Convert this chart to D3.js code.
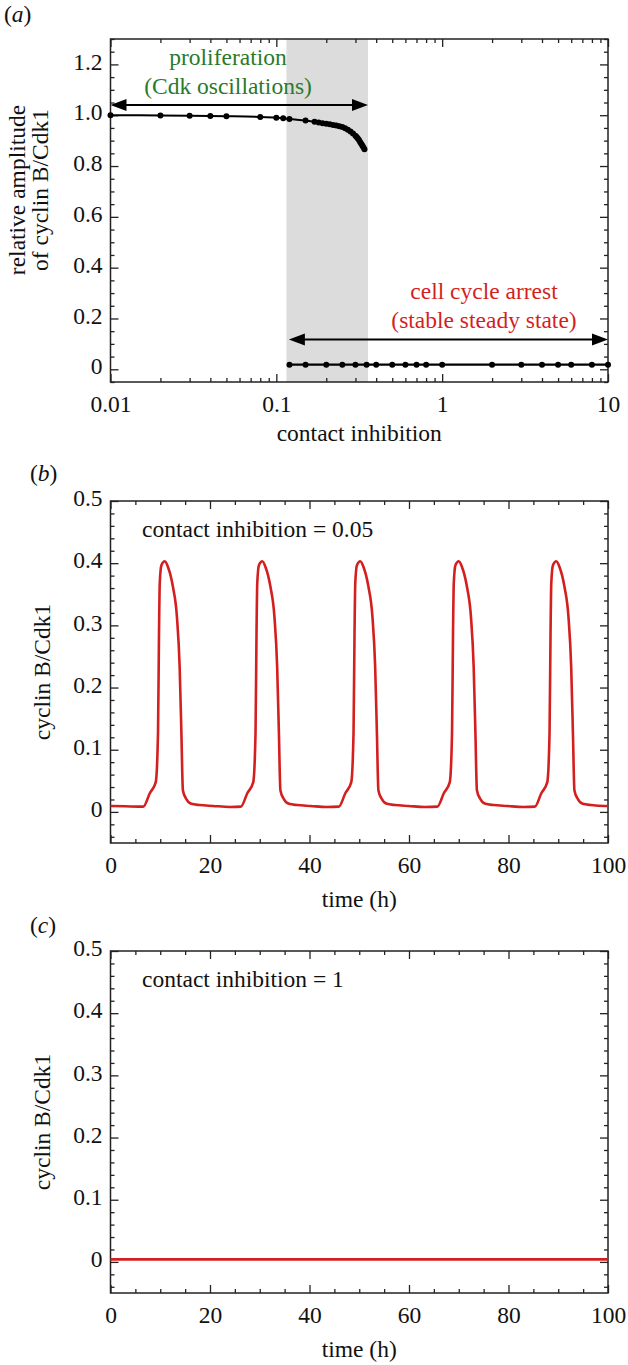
<!DOCTYPE html>
<html><head><meta charset="utf-8">
<script src="https://cdn.jsdelivr.net/npm/d3@7"></script>
<style>
html,body{margin:0;padding:0;background:#fff;}
svg{display:block;}
svg text{font-family:"Liberation Serif","DejaVu Serif",serif !important;fill:#111;}
</style></head>
<body>
<svg id="fig" width="628" height="1365"></svg>
<script>
// ---------- DATA ----------
// Panel (a): relative amplitude vs contact inhibition
const aUpperX = [0.01,0.02,0.03,0.04,0.05,0.08,0.1,0.11,0.12,0.15,0.17,0.18,0.19,0.2,0.21,0.22,0.23,0.24,0.25,0.26,0.27,0.28,0.29,0.3,0.305,0.31,0.315,0.32,0.325,0.33,0.335,0.34];
const aUpperY = [1.0,0.999,0.998,0.997,0.996,0.993,0.99,0.988,0.985,0.979,0.974,0.971,0.968,0.966,0.964,0.962,0.96,0.957,0.954,0.949,0.943,0.936,0.928,0.919,0.914,0.908,0.902,0.895,0.888,0.881,0.874,0.866];
const aLowerX = [0.12,0.15,0.2,0.25,0.3,0.35,0.4,0.5,0.6,0.7,0.8,1,2,3,4,5,6,8,10];
const aLowerY = [0.018,0.018,0.018,0.018,0.018,0.018,0.018,0.018,0.018,0.018,0.018,0.018,0.018,0.018,0.018,0.018,0.018,0.018,0.018];
const aShade = [0.115, 0.357];
const aArrowProlif = [0.01, 0.357, 1.04];
const aArrowArrest = [0.119, 10, 0.117];
const aXTicks = [0.01, 0.1, 1, 10];
const aXTickLabels = ["0.01","0.1","1","10"];
const aYTicks = [0, 0.2, 0.4, 0.6, 0.8, 1.0, 1.2];
const aYTickLabels = ["0","0.2","0.4","0.6","0.8","1.0","1.2"];

// Panel (b): cyclin B/Cdk1 time course, contact inhibition = 0.05
const bTime = [0,3,6.6,7.9,9.1,9.55,9.75,9.9,10.25,10.9,11.55,12.55,13.35,13.9,14.25,14.55,15.15,16.25,17.9,20.6,24,
  26.2,27.5,28.7,29.15,29.35,29.5,29.85,30.5,31.15,32.15,32.95,33.5,33.85,34.15,34.75,35.85,37.5,40.2,43.5,
  45.9,47.2,48.4,48.85,49.05,49.2,49.55,50.2,50.85,51.85,52.65,53.2,53.55,53.85,54.45,55.55,57.2,59.9,63.2,
  65.7,67.0,68.2,68.65,68.85,69.0,69.35,70.0,70.65,71.65,72.45,73.0,73.35,73.65,74.25,75.35,77.0,79.7,83,
  85.3,86.6,87.8,88.25,88.45,88.6,88.95,89.6,90.25,91.25,92.05,92.6,92.95,93.25,93.85,94.95,96.6,99.3,100];
const bCdk = [0.0095,0.009,0.0085,0.03,0.048,0.127,0.288,0.368,0.397,0.403,0.394,0.362,0.314,0.233,0.127,0.035,0.022,0.013,0.011,0.0096,0.008,
  0.0085,0.03,0.048,0.127,0.288,0.368,0.397,0.403,0.394,0.362,0.314,0.233,0.127,0.035,0.022,0.013,0.011,0.0096,0.008,
  0.0085,0.03,0.048,0.127,0.288,0.368,0.397,0.403,0.394,0.362,0.314,0.233,0.127,0.035,0.022,0.013,0.011,0.0096,0.008,
  0.0085,0.03,0.048,0.127,0.288,0.368,0.397,0.403,0.394,0.362,0.314,0.233,0.127,0.035,0.022,0.013,0.011,0.0096,0.008,
  0.0085,0.03,0.048,0.127,0.288,0.368,0.397,0.403,0.394,0.362,0.314,0.233,0.127,0.035,0.022,0.013,0.011,0.0096,0.0096];

// Panel (c): contact inhibition = 1 (steady state)
const cTime = [0, 100];
const cCdk = [0.004, 0.004];

const tXTicks = [0,20,40,60,80,100];
const tYTicks = [0,0.1,0.2,0.3,0.4,0.5];
const tYTickLabels = ["0","0.1","0.2","0.3","0.4","0.5"];

// ---------- LAYOUT ----------
const svg = d3.select("#fig");
const FS = 23.5;
const FONT = '"Liberation Serif","DejaVu Serif",serif';
const L = 110.5, R = 608;
const boxes = {
  a: {top: 39, bottom: 382},
  b: {top: 501, bottom: 843},
  c: {top: 951, bottom: 1293}
};
const RED = "#d41f1f", GREEN = "#2a7a2a";

function txt(g){ return g.append("text").attr("font-family",FONT).attr("font-size",FS); }

function frame(g, box){
  g.append("rect").attr("x", L).attr("y", box.top)
   .attr("width", R - L).attr("height", box.bottom - box.top)
   .attr("fill","none").attr("stroke","#222").attr("stroke-width",1.5);
}

function ticks(g, box, xs, ys, xMajor, xMinor, yMajor, yMinor, xFmt, yFmt){
  const mk = (tr, ax) => g.append("g").attr("transform",tr).call(ax);
  mk(`translate(0,${box.bottom})`, d3.axisBottom(xs).tickValues(xMinor).tickSizeInner(-4).tickSizeOuter(0).tickFormat(""));
  mk(`translate(0,${box.bottom})`, d3.axisBottom(xs).tickValues(xMajor).tickSizeInner(-8).tickSizeOuter(0).tickPadding(13).tickFormat(xFmt));
  mk(`translate(0,${box.top})`, d3.axisTop(xs).tickValues(xMinor).tickSizeInner(-4).tickSizeOuter(0).tickFormat(""));
  mk(`translate(0,${box.top})`, d3.axisTop(xs).tickValues(xMajor).tickSizeInner(-8).tickSizeOuter(0).tickFormat(""));
  mk(`translate(${L},0)`, d3.axisLeft(ys).tickValues(yMinor).tickSizeInner(-4).tickSizeOuter(0).tickFormat(""));
  const lfM = mk(`translate(${L},0)`, d3.axisLeft(ys).tickValues(yMajor).tickSizeInner(-8).tickSizeOuter(0).tickPadding(8).tickFormat(yFmt));
  lfM.selectAll("text").attr("dy","0.2em");
  mk(`translate(${R},0)`, d3.axisRight(ys).tickValues(yMinor).tickSizeInner(-4).tickSizeOuter(0).tickFormat(""));
  mk(`translate(${R},0)`, d3.axisRight(ys).tickValues(yMajor).tickSizeInner(-8).tickSizeOuter(0).tickFormat(""));
  g.selectAll("g").attr("font-family",FONT).attr("font-size",FS);
  g.selectAll(".domain").remove();
  g.selectAll(".tick line").attr("stroke","#222").attr("stroke-width",1.3);
  g.selectAll(".tick text").attr("font-size",FS).attr("font-family",FONT).attr("fill","#111");
}

function panelLabel(x, y, letter){
  const t = txt(svg).attr("x",x).attr("y",y);
  t.append("tspan").text("(");
  t.append("tspan").attr("font-style","italic").text(letter);
  t.append("tspan").text(")");
}

function arrow(g, x1, x2, y){
  const hl = 16, hw = 6;
  g.append("line").attr("x1",x1+hl-2).attr("x2",x2-hl+2).attr("y1",y).attr("y2",y)
   .attr("stroke","#000").attr("stroke-width",2);
  g.append("path").attr("d",`M${x1},${y}L${x1+hl},${y-hw}L${x1+hl},${y+hw}Z`).attr("fill","#000");
  g.append("path").attr("d",`M${x2},${y}L${x2-hl},${y-hw}L${x2-hl},${y+hw}Z`).attr("fill","#000");
}

// ---------- PANEL A ----------
{
  const box = boxes.a;
  const g = svg.append("g");
  const xs = d3.scaleLog().domain([0.01, 10]).range([L, R]);
  const ys = d3.scaleLinear().domain([-0.05, 1.3]).range([box.bottom, box.top]);
  g.append("rect").attr("x", xs(aShade[0])).attr("y", box.top)
   .attr("width", xs(aShade[1]) - xs(aShade[0])).attr("height", box.bottom - box.top)
   .attr("fill","#dcdcdc");
  const xMinor = [];
  [0.01,0.1,1].forEach(d => { for (let k=2;k<=9;k++) xMinor.push(d*k); });
  const yMinor = d3.range(-0.05, 1.31, 0.05).map(v=>+v.toFixed(2)).filter(v => Math.abs(v*5 - Math.round(v*5)) > 1e-6);
  ticks(g, box, xs, ys, aXTicks, xMinor, aYTicks, yMinor,
        (d,i)=>aXTickLabels[i], (d,i)=>aYTickLabels[i]);
  frame(g, box);

  const up = aUpperX.map((x,i)=>[x, aUpperY[i]]);
  const lo = aLowerX.map((x,i)=>[x, aLowerY[i]]);
  g.append("path").datum(up).attr("d", d3.line().x(d=>xs(d[0])).y(d=>ys(d[1])).curve(d3.curveMonotoneX)).attr("fill","none").attr("stroke","#000").attr("stroke-width",2);
  g.append("path").datum(lo).attr("d", d3.line().x(d=>xs(d[0])).y(d=>ys(d[1]))).attr("fill","none").attr("stroke","#000").attr("stroke-width",2.2);
  g.selectAll(".up").data(up).join("circle").attr("cx",d=>xs(d[0])).attr("cy",d=>ys(d[1])).attr("r",3).attr("fill","#000");
  g.selectAll(".lo").data(lo).join("circle").attr("cx",d=>xs(d[0])).attr("cy",d=>ys(d[1])).attr("r",3).attr("fill","#000");

  arrow(g, xs(aArrowProlif[0]), xs(aArrowProlif[1]), ys(aArrowProlif[2]));
  arrow(g, xs(aArrowArrest[0]), xs(aArrowArrest[1]), ys(aArrowArrest[2]));

  txt(g).attr("x",228).attr("y",65).attr("text-anchor","middle").style("fill",GREEN).text("proliferation");
  txt(g).attr("x",228).attr("y",94).attr("text-anchor","middle").style("fill",GREEN).text("(Cdk oscillations)");
  txt(g).attr("x",484).attr("y",299).attr("text-anchor","middle").style("fill",RED).text("cell cycle arrest");
  txt(g).attr("x",484).attr("y",328).attr("text-anchor","middle").style("fill",RED).text("(stable steady state)");

  txt(g).attr("x",(L+R)/2).attr("y",441).attr("text-anchor","middle").text("contact inhibition");
  txt(g).attr("transform",`translate(25,190) rotate(-90)`).attr("text-anchor","middle").text("relative amplitude");
  txt(g).attr("transform",`translate(48,190) rotate(-90)`).attr("text-anchor","middle").text("of cyclin B/Cdk1");
  panelLabel(4, 22, "a");
}

// ---------- PANELS B, C ----------
function timePanel(box, times, vals, note, letter, labelY){
  const g = svg.append("g");
  const xs = d3.scaleLinear().domain([0, 100]).range([L, R]);
  const ys = d3.scaleLinear().domain([-0.05, 0.5]).range([box.bottom, box.top]);
  const xMinor = d3.range(0, 101, 5).filter(v => v % 20 !== 0);
  const yMinor = d3.range(-0.04, 0.5, 0.02).map(v=>+v.toFixed(2)).filter(v => Math.abs(v*10 - Math.round(v*10)) > 1e-6);
  ticks(g, box, xs, ys, tXTicks, xMinor, tYTicks, yMinor, d=>String(d), (d,i)=>tYTickLabels[i]);
  frame(g, box);
  const pts = times.map((t,i)=>[t, vals[i]]);
  g.append("path").datum(pts)
   .attr("d", d3.line().x(d=>xs(d[0])).y(d=>ys(d[1])).curve(d3.curveMonotoneX))
   .attr("fill","none").attr("stroke",RED).attr("stroke-width",2.6).attr("stroke-linejoin","round");
  txt(g).attr("x",142).attr("y",box.top+36).text(note);
  txt(g).attr("x",(L+R)/2).attr("y",box.bottom+64).attr("text-anchor","middle").text("time (h)");
  txt(g).attr("transform",`translate(50,${(box.top+box.bottom)/2}) rotate(-90)`).attr("text-anchor","middle").text("cyclin B/Cdk1");
  panelLabel(30, labelY, letter);
}
timePanel(boxes.b, bTime, bCdk, "contact inhibition = 0.05", "b", 481);
timePanel(boxes.c, cTime, cCdk, "contact inhibition = 1", "c", 933);
</script>
</body></html>
